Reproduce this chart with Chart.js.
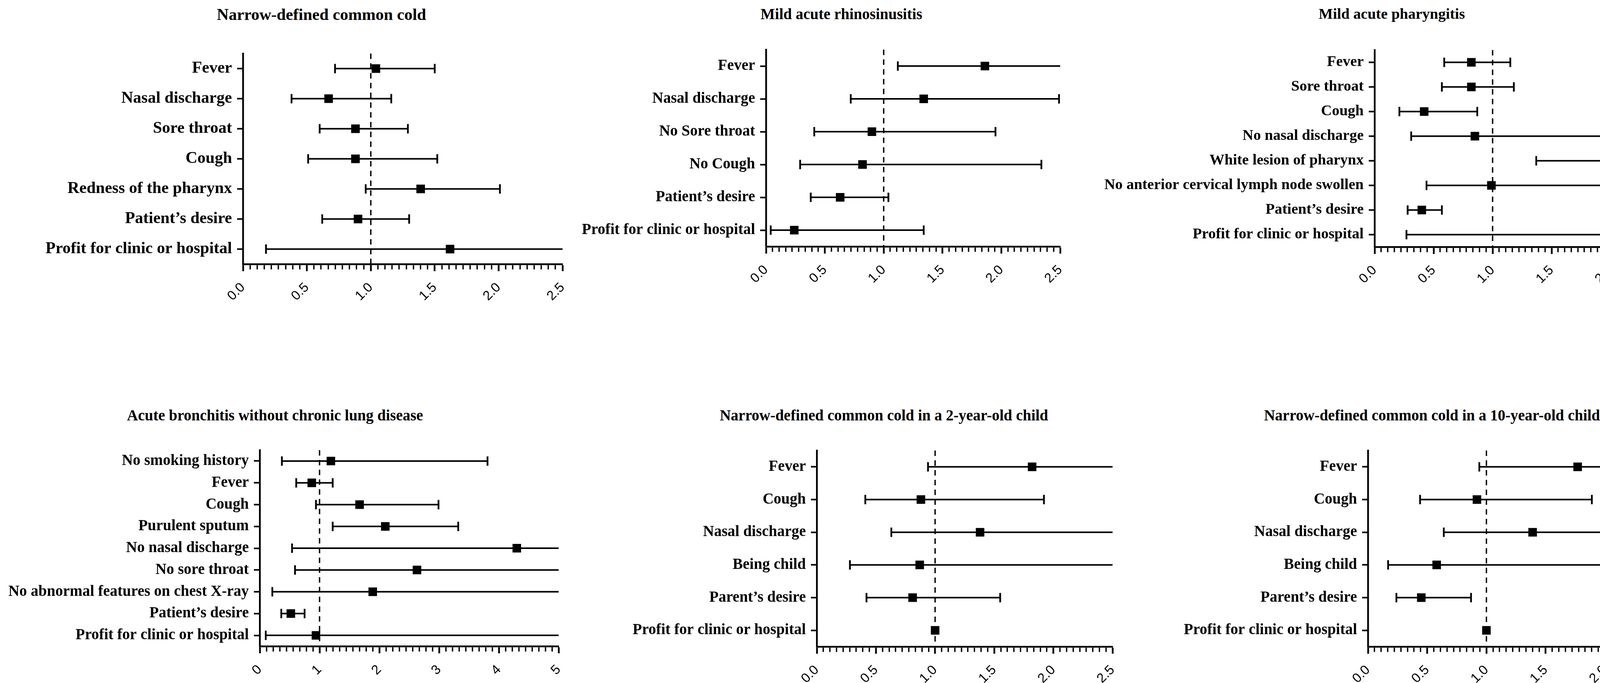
<!DOCTYPE html>
<html>
<head>
<meta charset="utf-8">
<script src="https://cdn.jsdelivr.net/npm/chart.js@4.4.1/dist/chart.umd.min.js"></script>
<style>
  html, body { margin: 0; padding: 0; background: #fff; }
  #page { position: relative; width: 4310px; height: 1748px; overflow: hidden; background: #fff; }
  .title { position: absolute; font-family: "Liberation Serif", "Times New Roman", serif; font-weight: bold; line-height: 1; white-space: nowrap; transform: translate(-50%, -50%); color: #000; }
  canvas { position: absolute; }
</style>
</head>
<body>
<div id="page"></div>
<script>
// Odds ratios (square) with lower / upper limits of the error bars
const coldLabels = ['Fever', 'Nasal discharge', 'Sore throat', 'Cough', 'Redness of the pharynx', 'Patient’s desire', 'Profit for clinic or hospital'];
const coldOR   = [1.04, 0.67, 0.88, 0.88, 1.39, 0.90, 1.62];
const coldLow  = [0.72, 0.38, 0.60, 0.51, 0.96, 0.62, 0.18];
const coldHigh = [1.50, 1.16, 1.29, 1.52, 2.01, 1.30, 6.00];

const rhinoLabels = ['Fever', 'Nasal discharge', 'No Sore throat', 'No Cough', 'Patient’s desire', 'Profit for clinic or hospital'];
const rhinoOR   = [1.86, 1.34, 0.90, 0.82, 0.63, 0.24];
const rhinoLow  = [1.12, 0.72, 0.41, 0.29, 0.38, 0.04];
const rhinoHigh = [3.50, 2.49, 1.95, 2.34, 1.04, 1.34];

const pharLabels = ['Fever', 'Sore throat', 'Cough', 'No nasal discharge', 'White lesion of pharynx', 'No anterior cervical lymph node swollen', 'Patient’s desire', 'Profit for clinic or hospital'];
const pharOR   = [0.82, 0.82, 0.42, 0.85, 2.07, 0.99, 0.40, 2.36];
const pharLow  = [0.59, 0.57, 0.21, 0.31, 1.37, 0.44, 0.28, 0.27];
const pharHigh = [1.15, 1.18, 0.87, 2.34, 3.20, 2.22, 0.57, 9.00];

const bronLabels = ['No smoking history', 'Fever', 'Cough', 'Purulent sputum', 'No nasal discharge', 'No sore throat', 'No abnormal features on chest X-ray', 'Patient’s desire', 'Profit for clinic or hospital'];
const bronOR   = [1.19, 0.87, 1.67, 2.10, 4.30, 2.63, 1.89, 0.52, 0.94];
const bronLow  = [0.37, 0.61, 0.94, 1.22, 0.54, 0.59, 0.21, 0.36, 0.10];
const bronHigh = [3.81, 1.22, 2.99, 3.32, 30.0, 12.0, 15.0, 0.75, 9.00];

const child2Labels = ['Fever', 'Cough', 'Nasal discharge', 'Being child', 'Parent’s desire', 'Profit for clinic or hospital'];
const child2OR   = [1.82, 0.88, 1.38, 0.87, 0.81, 1.00];
const child2Low  = [0.94, 0.41, 0.63, 0.28, 0.42, null];
const child2High = [3.60, 1.92, 3.00, 2.80, 1.55, null];

const child10Labels = ['Fever', 'Cough', 'Nasal discharge', 'Being child', 'Parent’s desire', 'Profit for clinic or hospital'];
const child10OR   = [1.77, 0.92, 1.39, 0.58, 0.45, 1.00];
const child10Low  = [0.94, 0.44, 0.64, 0.17, 0.24, null];
const child10High = [3.50, 1.89, 3.00, 2.08, 0.87, null];

const ticks25 = ['0.0', '0.5', '1.0', '1.5', '2.0', '2.5'];
const ticks5  = ['0', '1', '2', '3', '4', '5'];

const panels = [
  { title: 'Narrow-defined common cold', tx: 823, ty: 37, size: 42, labels: coldLabels, or: coldOR, low: coldLow, high: coldHigh, max: 2.5, major: 0.5, tickLabels: ticks25, box: [622, 137, 1441, 676] },
  { title: 'Mild acute rhinosinusitis', tx: 2154, ty: 35, size: 39, labels: rhinoLabels, or: rhinoOR, low: rhinoLow, high: rhinoHigh, max: 2.5, major: 0.5, tickLabels: ticks25, box: [1961, 127, 2715, 631] },
  { title: 'Mild acute pharyngitis', tx: 3563, ty: 35, size: 38.5, labels: pharLabels, or: pharOR, low: pharLow, high: pharHigh, max: 2.5, major: 0.5, tickLabels: ticks25, box: [3519, 128, 4275, 632] },
  { title: 'Acute bronchitis without chronic lung disease', tx: 704, ty: 1062, size: 39, labels: bronLabels, or: bronOR, low: bronLow, high: bronHigh, max: 5, major: 1, tickLabels: ticks5, box: [665, 1152, 1431, 1654] },
  { title: 'Narrow-defined common cold in a 2-year-old child', tx: 2263, ty: 1062, size: 39, labels: child2Labels, or: child2OR, low: child2Low, high: child2High, max: 2.5, major: 0.5, tickLabels: ticks25, box: [2091, 1153, 2849, 1655] },
  { title: 'Narrow-defined common cold in a 10-year-old child', tx: 3666, ty: 1062, size: 39, labels: child10Labels, or: child10OR, low: child10Low, high: child10High, max: 2.5, major: 0.5, tickLabels: ticks25, box: [3502, 1153, 4261, 1655] }
];

const black = '#000';
const AXIS_W = 760, PAD_TOP = 50, PAD_RIGHT = 50, X_AXIS_H = 120;
const page = document.getElementById('page');

function makePanel(p) {
  const [l, t, r, b] = p.box;
  const w = AXIS_W + (r - l) + PAD_RIGHT;
  const h = PAD_TOP + (b - t) + X_AXIS_H;

  const title = document.createElement('div');
  title.className = 'title';
  title.textContent = p.title;
  title.style.left = p.tx + 'px';
  title.style.top = p.ty + 'px';
  title.style.fontSize = p.size + 'px';
  page.appendChild(title);

  const canvas = document.createElement('canvas');
  canvas.width = w;
  canvas.height = h;
  canvas.style.left = (l - AXIS_W) + 'px';
  canvas.style.top = (t - PAD_TOP) + 'px';
  canvas.style.width = w + 'px';
  canvas.style.height = h + 'px';
  page.appendChild(canvas);

  // squares
  const datasets = [{
    order: 0,
    data: p.labels.map((c, i) => ({ x: p.or[i], y: c })),
    showLine: false,
    pointStyle: 'rect',
    pointRadius: 15.5,
    pointBackgroundColor: black,
    pointBorderWidth: 0,
    yAxisID: 'y'
  }];

  // error bars with caps
  p.labels.forEach((c, i) => {
    if (p.low[i] == null) return;
    datasets.push({
      order: 1,
      data: [{ x: p.low[i], y: c }, { x: p.high[i], y: c }],
      borderColor: black,
      borderWidth: 4,
      pointStyle: 'line',
      pointRotation: 90,
      pointRadius: 12,
      pointBorderWidth: 4.5,
      pointBorderColor: black,
      yAxisID: 'y'
    });
  });

  // reference line at 1
  datasets.push({
    order: 2,
    data: [{ x: 1, y: 1 }, { x: 1, y: 0 }],
    borderColor: black,
    borderWidth: 3.5,
    borderDash: [14, 11],
    pointRadius: 0,
    yAxisID: 'yRef'
  });

  const steps = Math.round(p.max / p.major) * 9;

  new Chart(canvas, {
    type: 'line',
    data: { datasets: datasets },
    options: {
      responsive: false,
      devicePixelRatio: 1,
      animation: false,
      events: [],
      layout: { padding: { top: PAD_TOP, right: PAD_RIGHT, left: 0, bottom: 0 } },
      plugins: { legend: { display: false }, tooltip: { enabled: false } },
      scales: {
        x: {
          type: 'linear',
          min: 0,
          max: p.max,
          afterBuildTicks: s => {
            s.ticks = [];
            for (let k = 0; k <= steps; k++) s.ticks.push({ value: k * p.major / 9 });
          },
          afterFit: s => { s.height = X_AXIS_H; },
          ticks: {
            autoSkip: false,
            minRotation: 45,
            maxRotation: 45,
            padding: 22,
            color: black,
            font: { family: '"Liberation Sans", Arial, sans-serif', size: 34 },
            callback: (v, i) => (i % 9 === 0 ? p.tickLabels[i / 9] : '')
          },
          grid: {
            drawOnChartArea: false,
            drawTicks: true,
            tickLength: 18,
            tickColor: black,
            tickWidth: c => (c.index % 9 === 0 ? 4.5 : 3.5),
            tickBorderDash: c => (c.index % 9 === 0 ? [] : [11, 60])
          },
          border: { display: true, color: black, width: 4.5 }
        },
        y: {
          type: 'category',
          labels: p.labels,
          offset: true,
          position: 'left',
          afterFit: s => { s.width = AXIS_W; },
          ticks: {
            color: black,
            padding: 13,
            font: { family: '"Liberation Serif", "Times New Roman", serif', size: p.size, weight: 'bold' }
          },
          grid: { drawOnChartArea: false, drawTicks: true, tickLength: 15, tickColor: black, tickWidth: 4, offset: false },
          border: { display: true, color: black, width: 4.5 }
        },
        yRef: { type: 'linear', min: 0, max: 1, display: false }
      }
    }
  });
}

panels.forEach(makePanel);
</script>
</body>
</html>
